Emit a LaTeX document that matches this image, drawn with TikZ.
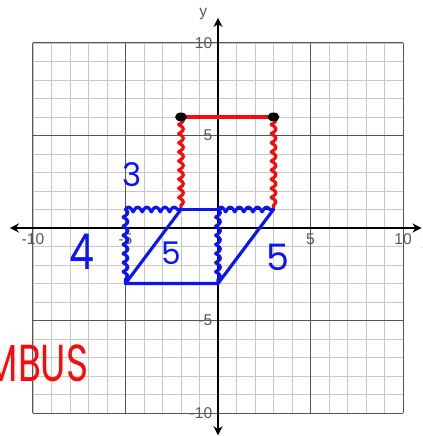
\documentclass[tikz,border=0pt]{standalone}
\usepackage{fontspec}
\setmainfont{Liberation Sans}
\newfontfamily\handfont{Poppins}
\usetikzlibrary{arrows.meta,decorations.pathmorphing,positioning}

\definecolor{gridminor}{RGB}{200,200,200}
\definecolor{gridmajor}{RGB}{85,85,85}
\definecolor{ticktext}{RGB}{90,90,90}
\definecolor{penred}{RGB}{250,10,10}
\definecolor{penblue}{RGB}{10,20,245}

\tikzset{
  ticklabel/.style={text=ticktext,font=\fontsize{12}{12}\selectfont,inner sep=0pt},
  redpen/.style={draw=penred,line width=2.4pt,line cap=round,line join=round},
  bluepen/.style={draw=penblue,line width=2.4pt,line cap=round,line join=round},
  wavy/.style={decorate,decoration={coil,amplitude=1.8pt,segment length=7pt,aspect=0.35}},
  scrawl/.style={inner sep=0pt,font=\handfont}
}

\begin{document}
\begin{tikzpicture}[x=0.5cm,y=0.5cm]
\useasboundingbox (-11.78,-11.24) rectangle (11.03,12.32);
% grid
\draw[gridminor,line width=0.6pt] (-10,-10) grid[step=1] (10,10);
\foreach \v in {-10,-5,5,10}{
  \draw[gridmajor,line width=0.8pt] (\v,-10) -- (\v,10);
  \draw[gridmajor,line width=0.8pt] (-10,\v) -- (10,\v);
}
% axes
\coordinate (xl) at (-11.25,0);
\coordinate (xr) at (11.0,0);
\coordinate (yb) at (0,-11.2);
\coordinate (yt) at (0,11.35);
\draw[line width=1.1pt,{Stealth[length=7pt,width=7pt]}-{Stealth[length=7pt,width=7pt]}] (xl) -- (xr);
\draw[line width=1.1pt,{Stealth[length=7pt,width=7pt]}-{Stealth[length=7pt,width=7pt]}] (yb) -- (yt);
\node[ticklabel] (ylab) at (-0.8,11.55) {y};
\node[ticklabel] (xlab) at (11.25,-0.9) {x};
\foreach \v in {-10,-5,5,10}{
  \node[ticklabel] at (\v,-0.6) {\v};
  \node[ticklabel,anchor=east] at (-0.3,\v) {\v};
}

% corners
\coordinate (a) at (-2,6);
\coordinate (b) at (3,6);
\coordinate (c) at (-2,1);
\coordinate (d) at (3,1);
\coordinate (e) at (-5,1);
\coordinate (f) at (-5,-3);
\coordinate (g) at (0,-3);
\coordinate (h) at (0,1);

% square
\draw[redpen] (a) -- (b);
\draw[redpen,wavy] (a) -- (c);
\draw[redpen,wavy] (b) -- (d);
\draw[line width=1.4pt] (c) -- (d);

% rhombus
\draw[bluepen,wavy] (e) -- (c);
\draw[bluepen,wavy] (e) -- (f);
\draw[bluepen] (c) -- (f) -- (g) -- (d);
\draw[bluepen] (c) -- (h);
\draw[bluepen,wavy] (h) -- (d);
\draw[bluepen,wavy] (h) -- (g);

\fill (a) ellipse[x radius=0.32,y radius=0.24];
\fill (b) ellipse[x radius=0.32,y radius=0.24];

% side lengths
\node[scrawl,text=penblue,font=\handfont\fontsize{25}{25}\selectfont] (three) at (-4.65,2.86) {3};
\node[scrawl,text=penblue,xscale=0.8,transform shape,font=\handfont\fontsize{38}{38}\selectfont] (four) at (-7.35,-1.3) {4};
\node[scrawl,text=penblue,font=\handfont\fontsize{24}{24}\selectfont] (fiveL) at (-2.5,-1.35) {5};
\node[scrawl,text=penblue,font=\handfont\fontsize{28}{28}\selectfont] (fiveR) at (3.25,-1.6) {5};
\node[scrawl,text=penred,anchor=east,xscale=0.72,transform shape,font=\handfont\fontsize{40}{40}\selectfont] (name) at (-7.0,-7.3) {RHOMBUS};
\end{tikzpicture}
\end{document}
